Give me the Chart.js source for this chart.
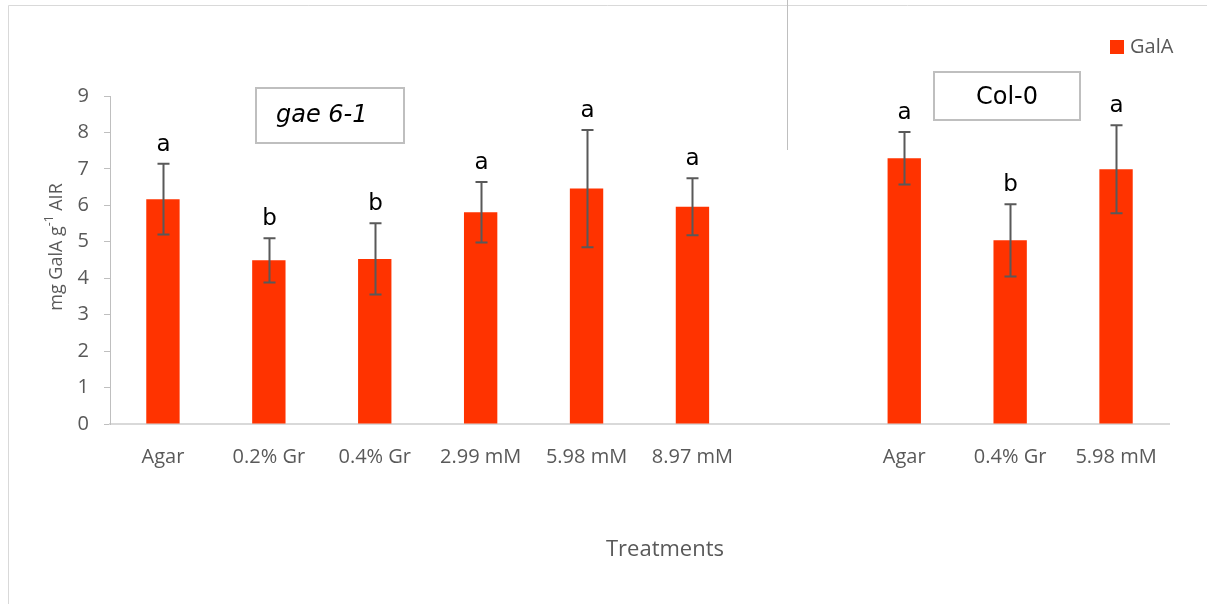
<!DOCTYPE html>
<html>
<head>
<meta charset="utf-8">
<script src="https://cdn.jsdelivr.net/npm/chart.js@4.4.0/dist/chart.umd.min.js"></script>
<style>
  html, body { margin: 0; padding: 0; background: #fff; }
  #wrap { width: 1207px; height: 604px; position: relative; }
</style>
</head>
<body>
<div id="wrap"><canvas id="c" width="1207" height="604"></canvas></div>
<script>
// Treatment groups: gae 6-1 (first six), gap, Col-0 (last three)
const categories = ['Agar', '0.2% Gr', '0.4% Gr', '2.99 mM', '5.98 mM', '8.97 mM', '', 'Agar', '0.4% Gr', '5.98 mM'];
const galA = [6.17, 4.49, 4.53, 5.81, 6.46, 5.96, null, 7.29, 5.04, 6.99];
const galAErr = [0.97, 0.61, 0.98, 0.83, 1.61, 0.78, null, 0.72, 0.99, 1.21];
const sigLetters = ['a', 'b', 'b', 'a', 'a', 'a', '', 'a', 'b', 'a'];
const yMin = 0, yMax = 9, yStep = 1;

const BAR = '#FF3300';
const GREY_TEXT = '#595959';

// Outer frame lines and background
const framePlugin = {
  id: 'frame',
  beforeDraw(chart) {
    const ctx = chart.ctx;
    ctx.save();
    ctx.fillStyle = '#fff';
    ctx.fillRect(0, 0, chart.width, chart.height);
    ctx.strokeStyle = '#d9d9d9';
    ctx.lineWidth = 1;
    ctx.beginPath();
    ctx.moveTo(8.5, chart.height);
    ctx.lineTo(8.5, 5.5);
    ctx.lineTo(chart.width, 5.5);
    ctx.stroke();
    ctx.strokeStyle = '#bfbfbf';
    ctx.beginPath();
    ctx.moveTo(787.5, 0);
    ctx.lineTo(787.5, 150);
    ctx.stroke();
    ctx.restore();
  }
};

// Error bars, significance letters, titles, labels and legend
const overlayPlugin = {
  id: 'overlay',
  afterDatasetsDraw(chart) {
    const ctx = chart.ctx;
    const y = chart.scales.y;
    const meta = chart.getDatasetMeta(0);
    ctx.save();
    meta.data.forEach((bar, i) => {
      const v = galA[i];
      if (v === null) return;
      const e = galAErr[i];
      const x = Math.round(bar.x) + 0.5;
      const yTop = y.getPixelForValue(v + e);
      const yBot = y.getPixelForValue(v - e);
      ctx.strokeStyle = GREY_TEXT;
      ctx.lineWidth = 2;
      ctx.beginPath();
      ctx.moveTo(x, yTop); ctx.lineTo(x, yBot);
      ctx.moveTo(x - 6, yTop); ctx.lineTo(x + 6, yTop);
      ctx.moveTo(x - 6, yBot); ctx.lineTo(x + 6, yBot);
      ctx.stroke();
      ctx.fillStyle = '#000';
      ctx.font = '23px "DejaVu Sans"';
      ctx.textAlign = 'center';
      ctx.textBaseline = 'alphabetic';
      ctx.fillText(sigLetters[i], x, yTop - 13);
    });

    // genotype boxes
    ctx.strokeStyle = '#bfbfbf';
    ctx.lineWidth = 2;
    ctx.strokeRect(256, 88, 148, 55);
    ctx.strokeRect(934, 72, 146, 48);
    ctx.fillStyle = '#000';
    ctx.textBaseline = 'middle';
    ctx.textAlign = 'left';
    ctx.font = 'italic 24px "DejaVu Sans"';
    ctx.fillText('gae 6-1', 276, 116);
    ctx.textAlign = 'center';
    ctx.font = '24px "DejaVu Sans"';
    ctx.fillText('Col-0', 1007, 98);

    // legend
    ctx.fillStyle = BAR;
    ctx.fillRect(1110, 40, 14, 14);
    ctx.fillStyle = GREY_TEXT;
    ctx.textAlign = 'left';
    ctx.font = '20px "Open Sans"';
    ctx.fillText('GalA', 1130, 47);

    // x axis title
    ctx.textAlign = 'center';
    ctx.font = '22px "Open Sans"';
    ctx.fillText('Treatments', 665, 550);

    // y axis title with superscript
    ctx.translate(57, 247);
    ctx.rotate(-Math.PI / 2);
    const base = '18px "Open Sans"';
    const sup = '12px "Open Sans"';
    const parts = [['mg GalA g', base, 0], ['-1', sup, -7], [' AIR', base, 0]];
    let total = 0;
    parts.forEach(p => { ctx.font = p[1]; total += ctx.measureText(p[0]).width; });
    let cx = -total / 2;
    ctx.textAlign = 'left';
    parts.forEach(p => {
      ctx.font = p[1];
      ctx.fillText(p[0], cx, p[2]);
      cx += ctx.measureText(p[0]).width;
    });
    ctx.restore();
  }
};

new Chart(document.getElementById('c'), {
  type: 'bar',
  data: {
    labels: categories,
    datasets: [{
      label: 'GalA',
      data: galA,
      backgroundColor: BAR,
      borderWidth: 0,
      barPercentage: 0.63,
      categoryPercentage: 0.5
    }]
  },
  options: {
    responsive: false,
    animation: false,
    devicePixelRatio: 1,
    layout: { padding: { top: 96, right: 38, left: 0, bottom: 0 } },
    plugins: {
      legend: { display: false },
      tooltip: { enabled: false }
    },
    scales: {
      x: {
        afterFit(s) { s.height = 180; },
        grid: { display: false, drawTicks: false },
        border: { color: '#d9d9d9', width: 2 },
        ticks: {
          color: GREY_TEXT,
          font: { family: 'Open Sans', size: 20 },
          padding: 21,
          maxRotation: 0,
          autoSkip: false
        }
      },
      y: {
        min: yMin,
        max: yMax,
        afterFit(s) { s.width = 110; },
        grid: { drawOnChartArea: false, drawTicks: true, tickLength: 6, color: '#bfbfbf' },
        border: { color: '#bfbfbf', width: 1 },
        ticks: {
          stepSize: yStep,
          color: GREY_TEXT,
          font: { family: 'Open Sans', size: 20 },
          padding: 15
        }
      }
    }
  },
  plugins: [framePlugin, overlayPlugin]
});
</script>
</body>
</html>
